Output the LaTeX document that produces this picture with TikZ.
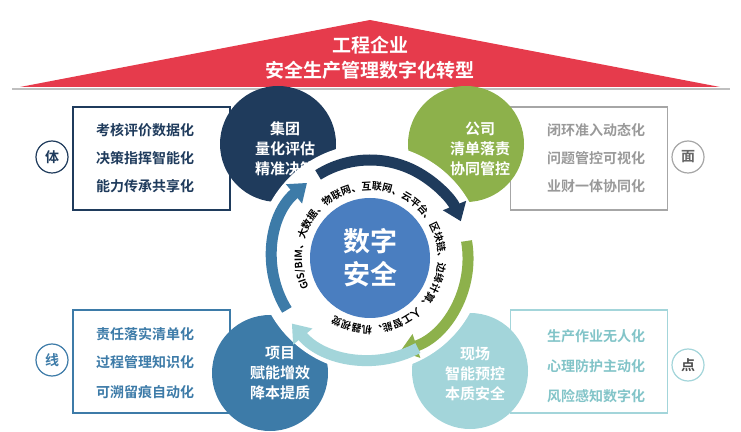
\documentclass[tikz,border=0pt]{standalone}
\usepackage{fontspec}
\newfontfamily\cjk{Noto Sans CJK SC}[BoldFont=* Bold]
\usetikzlibrary{arrows.meta, decorations.text, calc}
\definecolor{navy}{HTML}{1F3B5C}
\definecolor{leaf}{HTML}{8DB14B}
\definecolor{sea}{HTML}{3D7BA8}
\definecolor{ice}{HTML}{A3D5DA}
\definecolor{core}{HTML}{4A7EC0}
\definecolor{roof}{HTML}{E63B4C}

\begin{document}
\begin{tikzpicture}[x=1pt,y=1pt,font=\cjk\bfseries,
  unit/.style={circle,minimum size=116pt,inner sep=0pt,text=white,font=\cjk\bfseries\fontsize{15}{20}\selectfont,align=center},
  listbox/.style={draw,line width=1.2pt,minimum width=157pt,minimum height=103pt,inner sep=0pt},
  item/.style={font=\cjk\bfseries\fontsize{14}{16}\selectfont},
  tag/.style={circle,draw,fill=white,line width=1.2pt,minimum size=32pt,inner sep=0pt,font=\cjk\bfseries\fontsize{14}{16}\selectfont},
  flow/.style={line width=11pt,-{Triangle[length=17pt,width=24pt]}}]
  \useasboundingbox (0,0) rectangle (741,431);

  % roof
  \coordinate (eaveL) at (20,344);
  \coordinate (ridge) at (370,411);
  \coordinate (eaveR) at (720,344);
  \fill[roof] (eaveL) -- (ridge) -- (eaveR) -- cycle;
  \draw[black!25,line width=2pt] (12,342) -- (730,342);
  \node[text=white,font=\cjk\bfseries\fontsize{19}{22}\selectfont] (t1) at (370,386) {工程企业};
  \node[text=white,font=\cjk\bfseries\fontsize{19}{22}\selectfont] (t2) at (370,361) {安全生产管理数字化转型};

  % list boxes
  \node[listbox,draw=navy] (boxA) at (151.5,272.5) {};
  \node[listbox,draw=black!35] (boxB) at (589,272.5) {};
  \node[listbox,draw=sea] (boxC) at (151.5,69.5) {};
  \node[listbox,draw=ice] (boxD) at (589,69.5) {};

  \node[item,text=navy] at (145,301) {考核评价数据化};
  \node[item,text=navy] at (145,273) {决策指挥智能化};
  \node[item,text=navy] at (145,245) {能力传承共享化};
  \node[item,text=black!40] at (596,301) {闭环准入动态化};
  \node[item,text=black!40] at (596,273) {问题管控可视化};
  \node[item,text=black!40] at (596,245) {业财一体协同化};
  \node[item,text=sea] at (145,97) {责任落实清单化};
  \node[item,text=sea] at (145,69) {过程管理知识化};
  \node[item,text=sea] at (145,39) {可溯留痕自动化};
  \node[item,text=ice!80!teal] at (596,95) {生产作业无人化};
  \node[item,text=ice!80!teal] at (596,65) {心理防护主动化};
  \node[item,text=ice!80!teal] at (596,35) {风险感知数字化};

  % side tags
  \node[tag,draw=navy,text=navy] (ti) at (52,274) {体};
  \node[tag,draw=black!35,text=black!60] (mian) at (688,274) {面};
  \node[tag,draw=sea,text=sea] (xian) at (52,71) {线};
  \node[tag,draw=ice,text=black!70] (dian) at (688,66) {点};

  % four units
  \coordinate (hub) at (370,173);
  \node[unit,fill=navy] (group) at (278,287) {};
  \node[unit,fill=leaf] (firm) at (466,287) {};
  \node[unit,fill=sea] (proj) at (270,58) {};
  \node[unit,fill=ice] (site) at (470,60) {};
  \fill[white] (hub) circle [radius=114];

  \node[unit,minimum size=0pt] at (285,282) {集团\\量化评估\\精准决策};
  \node[unit,minimum size=0pt] at (480,282) {公司\\清单落责\\协同管控};
  \node[unit,minimum size=0pt] at (280,58) {项目\\赋能增效\\降本提质};
  \node[unit,minimum size=0pt] at (475,57) {现场\\智能预控\\本质安全};

  % cycle arrows
  \draw[flow,navy] ($(hub)+(122:98)$) arc [start angle=122,end angle=22,radius=98];
  \draw[flow,leaf] ($(hub)+(10:98)$) arc [start angle=10,end angle=-72,radius=98];
  \draw[flow,ice] ($(hub)+(-62:102)$) arc [start angle=-62,end angle=-140,radius=102];
  \draw[flow,sea] ($(hub)+(212:98)$) arc [start angle=212,end angle=130,radius=98];

  % core
  \fill[core] (hub) circle [radius=60];
  \node[text=white,font=\cjk\bfseries\fontsize{27}{33}\selectfont,align=center] (digi) at (hub) {数字\\安全};
  \path[decorate,decoration={text along path,text align=center,
    text={|\cjk\bfseries\fontsize{10}{12}\selectfont|GIS/BIM、大数据、物联网、互联网、云平台、区块链、边缘计算、人工智能、机器视觉}}]
    ($(hub)+(212:68)$) arc [start angle=212,end angle=-128,radius=68];
\end{tikzpicture}
\end{document}
